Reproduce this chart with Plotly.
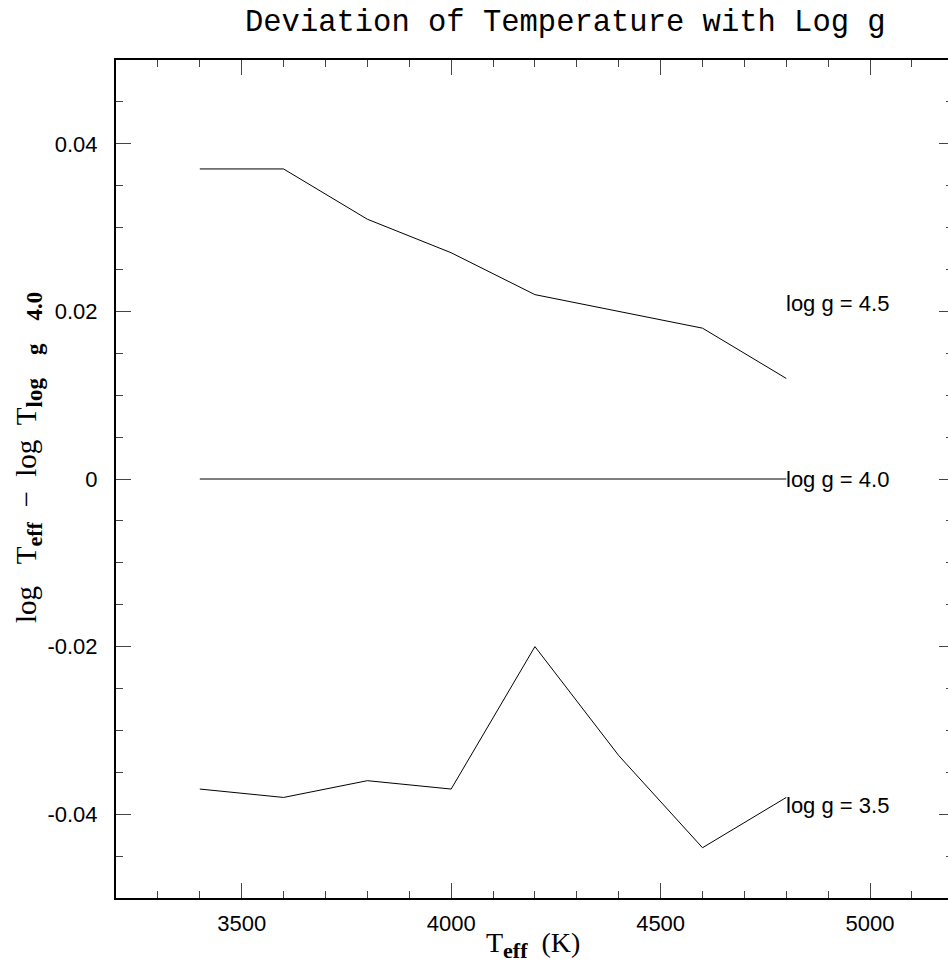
import plotly.graph_objects as go

# Effective temperature grid (K)
teff = [3400, 3600, 3800, 4000, 4200, 4400, 4600, 4800]

# log Teff - log Teff(log g = 4.0) for each surface gravity
dev_logg45 = [0.037, 0.037, 0.031, 0.027, 0.022, 0.020, 0.018, 0.012]
dev_logg40 = [0.0, 0.0, 0.0, 0.0, 0.0, 0.0, 0.0, 0.0]
dev_logg35 = [-0.037, -0.038, -0.036, -0.037, -0.020, -0.033, -0.044, -0.038]

curve_labels = ["log g = 4.5", "log g = 4.0", "log g = 3.5"]
label_y = [0.021, 0.0, -0.039]

x_ticks = [3500, 4000, 4500, 5000]
y_ticks = [-0.04, -0.02, 0.0, 0.02, 0.04]
y_ticktext = ["-0.04", "-0.02", "0", "0.02", "0.04"]

line_style = dict(color="black", width=1)
tick_font = dict(family="Liberation Sans, Arial, sans-serif", size=22, color="black")
serif = "Liberation Serif, Times New Roman, serif"

fig = go.Figure()
fig.add_trace(go.Scatter(x=teff, y=dev_logg45, mode="lines", line=line_style,
                         showlegend=False, hoverinfo="skip"))
fig.add_trace(go.Scatter(x=teff, y=dev_logg40, mode="lines", line=line_style,
                         showlegend=False, hoverinfo="skip", yaxis="y2"))
fig.add_trace(go.Scatter(x=teff, y=dev_logg35, mode="lines", line=line_style,
                         showlegend=False, hoverinfo="skip"))

# Curve labels placed just after the last temperature point
for txt, yv in zip(curve_labels, label_y):
    fig.add_annotation(x=teff[-1], y=yv, xref="x", yref="y", text=txt,
                       showarrow=False, xanchor="left", yanchor="middle",
                       xshift=-2, font=tick_font)

fig.update_layout(
    width=948, height=980,
    margin=dict(l=116, r=0, t=60, b=82),
    paper_bgcolor="white", plot_bgcolor="white",
    xaxis=dict(
        range=[3200, 5186], tickvals=x_ticks, ticktext=[str(v) for v in x_ticks],
        ticks="inside", ticklen=15, tickwidth=1, tickcolor="#444",
        minor=dict(dtick=100, tick0=3200, ticks="inside", ticklen=7,
                   tickwidth=1, tickcolor="#444"),
        showline=True, linecolor="black", linewidth=2, mirror="ticks",
        showgrid=False, zeroline=False, tickfont=tick_font,
        ticklabelstandoff=5,
    ),
    yaxis=dict(
        range=[-0.05, 0.05], tickvals=y_ticks, ticktext=y_ticktext,
        ticks="inside", ticklen=15, tickwidth=1, tickcolor="#444",
        minor=dict(dtick=0.005, tick0=-0.05, ticks="inside", ticklen=7,
                   tickwidth=1, tickcolor="#444"),
        showline=True, linecolor="black", linewidth=2, mirror=False,
        showgrid=False, zeroline=False, tickfont=tick_font,
        ticklabelstandoff=12,
    ),
    yaxis2=dict(
        range=[-0.05, 0.05], overlaying="y", side="right", anchor="x",
        tickvals=y_ticks, showticklabels=False,
        ticks="inside", ticklen=9, tickwidth=1, tickcolor="#444",
        minor=dict(dtick=0.005, tick0=-0.05, ticks="inside", ticklen=2,
                   tickwidth=1, tickcolor="#444"),
        showline=False, showgrid=False, zeroline=False,
    ),
)

# Title
fig.add_annotation(
    text="Deviation of Temperature with Log g",
    xref="paper", yref="paper", x=(565 - 116) / 832, y=(898 - 23) / 838,
    xanchor="center", yanchor="middle", showarrow=False,
    font=dict(family="Liberation Mono, Courier New, monospace", size=30.5, color="black"),
)

# Axis titles
sp = "\u00a0"
sub_fmt = '<sub><span style="font-size:{}px"><b>{}</b></span></sub>'
fig.add_annotation(
    text="T" + sub_fmt.format(22, "eff") + sp * 2 + "(K)",
    xref="paper", yref="paper", x=(533 - 116) / 832, y=(898 - 945) / 838,
    xanchor="center", yanchor="middle", showarrow=False,
    font=dict(family=serif, size=28, color="black"),
)
ytitle = ("log" + sp * 3 + "T" + sub_fmt.format(22, "eff") + sp * 2 + "\u2212" + sp * 2
          + "log" + sp * 2 + "T"
          + sub_fmt.format(23, "log" + sp * 4 + "g" + sp * 4 + "4.0"))
fig.add_annotation(
    text=ytitle,
    xref="paper", yref="paper", x=(28 - 116) / 832, y=(898 - 458) / 838,
    xanchor="center", yanchor="middle", textangle=-90, showarrow=False,
    font=dict(family=serif, size=29, color="black"),
)

fig.write_html("out.html")
